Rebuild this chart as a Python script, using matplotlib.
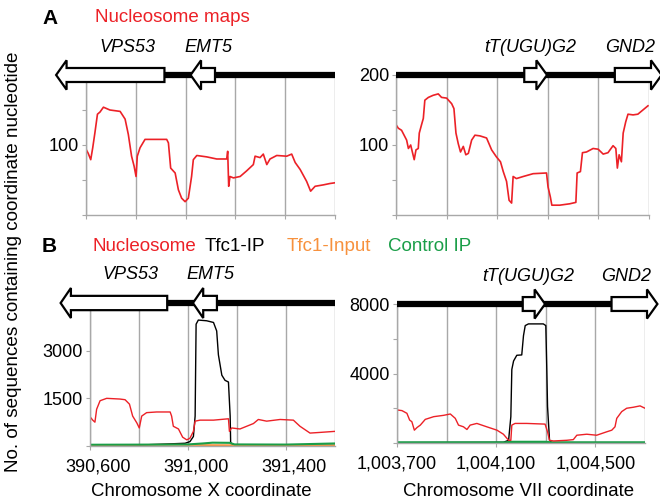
import matplotlib
matplotlib.use("Agg")
import matplotlib.pyplot as plt
import matplotlib.transforms as mtransforms
from matplotlib.patches import Polygon

plt.rcParams['font.family'] = ['Liberation Sans', 'DejaVu Sans']

RED = '#ec2127'
ORANGE = '#f7913d'
GREEN = '#1a9e48'
GRID = '#a8a8a8'

# --- panel A, chromosome X window: nucleosome map
chrX_pos_a = [390600, 390609, 390619, 390627, 390636, 390646, 390656, 390670, 390696, 390737,
              390757, 390770, 390783, 390793, 390801, 390806, 390817, 390837, 390870, 390924,
              390931, 390940, 390958, 390971, 390984, 390998, 391011, 391024, 391031, 391045,
              391085, 391125, 391165, 391169, 391173, 391178, 391192, 391219, 391245, 391272,
              391279, 391299, 391312, 391326, 391339, 391366, 391406, 391426, 391440, 391460,
              391486, 391502, 391520, 391553, 391580, 391600]
chrX_nuc_a = [94, 88, 79, 96, 118, 144, 147, 154, 150, 148,
              137, 115, 84, 70, 55, 84, 96, 108, 108, 108,
              103, 67, 60, 36, 24, 19, 24, 55, 79, 85,
              83, 80, 80, 91, 41, 55, 53, 55, 63, 72,
              84, 82, 87, 72, 80, 85, 84, 87, 75, 65,
              48, 34, 41, 43, 45, 46]

# --- panel A, chromosome VII window: nucleosome map
chrVII_pos_a = [1003700, 1003709, 1003722, 1003732, 1003742, 1003749, 1003758, 1003766, 1003772, 1003779,
                1003788, 1003792, 1003801, 1003808, 1003814, 1003828, 1003847, 1003867, 1003880, 1003900,
                1003920, 1003929, 1003937, 1003946, 1003955, 1003966, 1003976, 1003986, 1003999, 1004012,
                1004032, 1004058, 1004078, 1004097, 1004113, 1004124, 1004137, 1004147, 1004157, 1004163,
                1004176, 1004203, 1004242, 1004295, 1004301, 1004310, 1004316, 1004347, 1004387, 1004411,
                1004416, 1004429, 1004437, 1004453, 1004479, 1004499, 1004519, 1004538, 1004558, 1004569,
                1004575, 1004582, 1004591, 1004598, 1004608, 1004617, 1004637, 1004656, 1004676, 1004696]
chrVII_nuc_a = [129, 124, 121, 114, 107, 95, 100, 88, 79, 93,
                95, 117, 129, 138, 164, 168, 171, 173, 168, 167,
                159, 152, 117, 102, 90, 98, 86, 88, 107, 114,
                113, 110, 93, 83, 76, 62, 48, 21, 17, 55,
                52, 55, 59, 60, 40, 26, 14, 14, 16, 18,
                60, 62, 89, 90, 95, 94, 87, 89, 99, 95,
                67, 86, 76, 117, 133, 144, 143, 144, 150, 156]

# --- panel B, chromosome X window
chrX_pos_b = [390600, 390611, 390620, 390627, 390641, 390668, 390722, 390743, 390761, 390774,
              390791, 390801, 390811, 390831, 390872, 390927, 390933, 390940, 390961, 390978,
              390995, 391008, 391022, 391029, 391049, 391104, 391165, 391169, 391178, 391212,
              391267, 391287, 391321, 391376, 391430, 391457, 391498, 391539, 391600]
chrX_nuc_b = [921, 814, 750, 1157, 1425, 1500, 1478, 1457, 1317, 942,
              728, 568, 942, 1050, 1071, 1071, 942, 621, 536, 278,
              193, 246, 461, 782, 814, 814, 857, 461, 568, 536,
              707, 835, 782, 835, 814, 621, 407, 428, 461]
chrX_ip_pos = [390600, 390800, 390988, 391008, 391022, 391029, 391033, 391042, 391076, 391104,
               391117, 391124, 391138, 391151, 391165, 391172, 391174, 391185, 391400, 391600]
chrX_ip = [30, 30, 86, 139, 300, 942, 3834, 3963, 3941, 3888,
           3620, 2870, 2228, 2067, 2014, 942, 107, 32, 25, 20]
chrX_input_pos = [390600, 390800, 390950, 391050, 391200, 391600]
chrX_input = [25, 35, 40, 30, 25, 20]
chrX_ctrl_pos = [390600, 390900, 391000, 391060, 391100, 391170, 391190, 391400, 391600]
chrX_ctrl = [40, 45, 50, 80, 105, 100, 50, 45, 80]

# --- panel B, chromosome VII window
chrVII_pos_b = [1003700, 1003720, 1003740, 1003751, 1003760, 1003770, 1003781, 1003794, 1003814, 1003848,
                1003888, 1003915, 1003935, 1003948, 1003968, 1003982, 1003995, 1004022, 1004062, 1004103,
                1004129, 1004150, 1004159, 1004163, 1004176, 1004223, 1004297, 1004307, 1004315, 1004331,
                1004384, 1004411, 1004425, 1004465, 1004505, 1004525, 1004545, 1004566, 1004579, 1004586,
                1004606, 1004626, 1004653, 1004680, 1004700]
chrVII_nuc_b = [1903, 1864, 1709, 1320, 1223, 738, 893, 1029, 1359, 1515,
                1592, 1670, 1418, 1029, 932, 777, 1029, 1126, 932, 738,
                505, 155, 155, 1029, 1126, 1126, 1087, 641, 155, 117,
                155, 194, 447, 505, 447, 544, 641, 738, 932, 1418,
                1806, 2000, 2058, 2136, 2000]
chrVII_ip_pos = [1003700, 1004129, 1004150, 1004159, 1004163, 1004170, 1004183, 1004203, 1004210, 1004217,
                 1004230, 1004290, 1004300, 1004304, 1004307, 1004315, 1004324, 1004700]
chrVII_ip = [20, 39, 155, 1515, 4234, 4719, 5049, 5069, 6176, 6758,
             6855, 6855, 6758, 4234, 2097, 155, 20, 20]
chrVII_input_pos = [1003700, 1004700]
chrVII_input = [15, 15]
chrVII_ctrl_pos = [1003700, 1004140, 1004160, 1004300, 1004320, 1004700]
chrVII_ctrl = [20, 20, 50, 50, 20, 20]

# genes: name, start, end, strand, label x
genes_x = [("VPS53", 390480, 390915, -1, 390765),
           ("EMT5", 391020, 391118, -1, 391090)]
genes_vii = [("tT(UGU)G2", 1004207, 1004297, 1, 1004230),
             ("GND2", 1004565, 1004750, 1, 1004625)]

xlim_x = (390600, 391600)
xlim_vii = (1003700, 1004700)
xgrid_x = [390600, 390800, 391000, 391200, 391400, 391600]
xgrid_vii = [1003700, 1003900, 1004100, 1004300, 1004500, 1004700]
xlab_x = [390600, 391000, 391400]
xlab_vii = [1003700, 1004100, 1004500]


def draw_genes(ax, genes, xlim):
    trans = mtransforms.blended_transform_factory(ax.transData, ax.transAxes)
    ax.plot(xlim, [1, 1], color='black', lw=4.5, solid_capstyle='butt',
            transform=trans, clip_on=False, zorder=5)
    hb, hh, head = 0.05, 0.105, 42
    for name, s, e, strand, lx in genes:
        if strand < 0:
            pts = [(s, 1), (s + head, 1 + hh), (s + head, 1 + hb), (e, 1 + hb),
                   (e, 1 - hb), (s + head, 1 - hb), (s + head, 1 - hh)]
        else:
            pts = [(e, 1), (e - head, 1 + hh), (e - head, 1 + hb), (s, 1 + hb),
                   (s, 1 - hb), (e - head, 1 - hb), (e - head, 1 - hh)]
        ax.add_patch(Polygon(pts, closed=True, facecolor='white', edgecolor='black',
                             lw=1.6, transform=trans, clip_on=False, zorder=6))
        ax.text(lx, 1.2, name, style='italic', fontsize=13, ha='center', va='center',
                transform=trans)


def style_axes(ax, xlim, xgrid, ylim, yticks, ylabels):
    ax.set_xlim(xlim)
    ax.set_ylim(ylim)
    for sp in ['top', 'right']:
        ax.spines[sp].set_visible(False)
    for sp in ['left', 'bottom']:
        ax.spines[sp].set_color(GRID)
        ax.spines[sp].set_linewidth(1.0)
    for g in xgrid:
        ax.axvline(g, color=GRID, lw=1.0, zorder=0)
    ax.set_yticks(yticks)
    ax.set_yticklabels(ylabels)
    ax.tick_params(axis='y', length=3, color=GRID, labelsize=13, pad=2)
    ax.tick_params(axis='x', length=3, color=GRID, labelsize=13, pad=6)


fig = plt.figure(figsize=(6.6, 5.03), dpi=100)

ax1 = fig.add_axes([0.1303, 0.5726, 0.3773, 0.2783])
ax2 = fig.add_axes([0.6, 0.5726, 0.3833, 0.2783])
ax3 = fig.add_axes([0.1364, 0.1133, 0.3712, 0.2843])
ax4 = fig.add_axes([0.6015, 0.1193, 0.3758, 0.2763])

ax1.plot(chrX_pos_a, chrX_nuc_a, color=RED, lw=1.2)
style_axes(ax1, xlim_x, xgrid_x, (0, 200), [0, 50, 100, 150], ['', '', '100', ''])
ax1.set_xticks(xgrid_x)
ax1.set_xticklabels([])
draw_genes(ax1, genes_x, xlim_x)

ax2.plot(chrVII_pos_a, chrVII_nuc_a, color=RED, lw=1.2)
style_axes(ax2, xlim_vii, xgrid_vii, (0, 200), [0, 50, 100, 150, 200], ['', '', '100', '', '200'])
ax2.set_xticks(xgrid_vii)
ax2.set_xticklabels([])
draw_genes(ax2, genes_vii, xlim_vii)

ax3.plot(chrX_ip_pos, chrX_ip, color='black', lw=1.0)
ax3.plot(chrX_input_pos, chrX_input, color=ORANGE, lw=1.3)
ax3.plot(chrX_ctrl_pos, chrX_ctrl, color=GREEN, lw=1.5)
ax3.plot(chrX_pos_b, chrX_nuc_b, color=RED, lw=1.0)
style_axes(ax3, xlim_x, xgrid_x, (0, 4500), [0, 1500, 3000], ['', '1500', '3000'])
ax3.set_xticks(xlab_x)
ax3.set_xticklabels(['{:,}'.format(v) for v in xlab_x])
off = mtransforms.ScaledTranslation(0.08, 0, fig.dpi_scale_trans)
for lab in ax3.get_xticklabels():
    lab.set_transform(lab.get_transform() + off)
draw_genes(ax3, genes_x, xlim_x)

ax4.plot(chrVII_ip_pos, chrVII_ip, color='black', lw=1.0)
ax4.plot(chrVII_input_pos, chrVII_input, color=ORANGE, lw=1.3)
ax4.plot(chrVII_ctrl_pos, chrVII_ctrl, color=GREEN, lw=2.0)
ax4.plot(chrVII_pos_b, chrVII_nuc_b, color=RED, lw=1.0)
style_axes(ax4, xlim_vii, xgrid_vii, (0, 8000), [0, 2000, 4000, 6000, 8000],
           ['', '', '4000', '', '8000'])
ax4.set_xticks(xlab_vii)
ax4.set_xticklabels(['{:,}'.format(v) for v in xlab_vii])
draw_genes(ax4, genes_vii, xlim_vii)

fig.text(42 / 660, 1 - 18 / 503, 'A', fontsize=15, fontweight='bold', va='center')
fig.text(95 / 660, 1 - 18 / 503, 'Nucleosome maps', fontsize=13.5, color=RED, va='center')
fig.text(42 / 660, 1 - 247 / 503, 'B', fontsize=15, fontweight='bold', va='center')
legend_items = [('Nucleosome', RED, 92), ('Tfc1-IP', 'black', 205),
                ('Tfc1-Input', ORANGE, 287), ('Control IP', GREEN, 388)]
for txt, col, xp in legend_items:
    fig.text(xp / 660, 1 - 247 / 503, txt, fontsize=13.5, color=col, va='center')

fig.text(14 / 660, 1 - 262 / 503, 'No. of sequences containing coordinate nucleotide',
         rotation=90, fontsize=13.6, ha='center', va='center')
fig.text(201 / 660, 1 - 492 / 503, 'Chromosome X coordinate', fontsize=13.4, ha='center', va='center')
fig.text(519 / 660, 1 - 492 / 503, 'Chromosome VII coordinate', fontsize=13.4, ha='center', va='center')

fig.savefig('out.png', dpi=100)
